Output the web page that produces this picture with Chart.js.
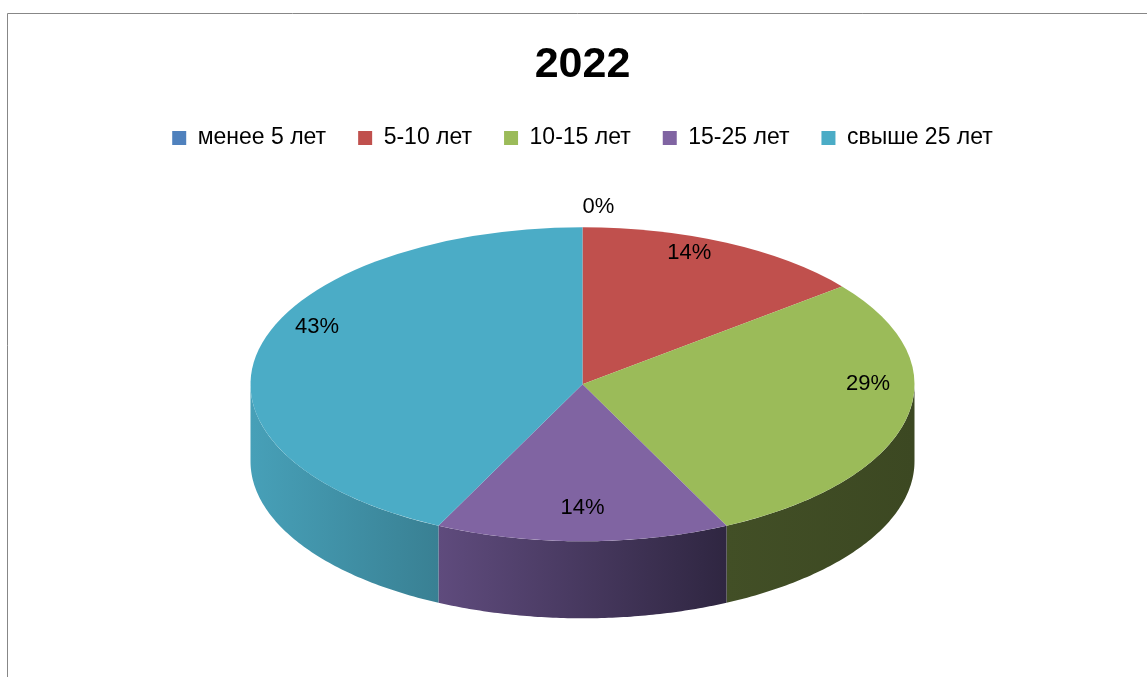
<!DOCTYPE html>
<html>
<head>
<meta charset="utf-8">
<script src="https://cdn.jsdelivr.net/npm/chart.js@4/dist/chart.umd.min.js"></script>
<style>
  html, body { margin: 0; padding: 0; background: #ffffff; }
  #wrap { width: 1147px; height: 677px; position: relative; }
</style>
</head>
<body>
<div id="wrap"><canvas id="c" width="1147" height="677"></canvas></div>
<script>
// ---- data ----
const categories = ['менее 5 лет', '5-10 лет', '10-15 лет', '15-25 лет', 'свыше 25 лет'];
const values = [0, 1, 2, 1, 3];
const chartTitle = '2022';

// ---- styles ----
const topColors = ['#4f81bd', '#c0504d', '#9bbb59', '#8064a2', '#4bacc6'];
const sideLight = ['#3f6796', '#9a403e', '#424f26', '#5f4b7d', '#47a0b8'];
const sideDark  = ['#2f4e72', '#7a3230', '#3c4822', '#2f2641', '#398093'];
const FONT = "'Liberation Sans', Arial, sans-serif";
const ELLIPSE_RX = 332, ELLIPSE_RY = 157, DEPTH = 77, APEX_DY = 30;

function ellPt(arc, ang, f, dy) {
  return [arc.x + Math.cos(ang) * ELLIPSE_RX * f, arc.y + Math.sin(ang) * ELLIPSE_RY * f + (dy || 0)];
}
// label anchor with a perspective-like projection (as in the 3D original)
function labelPt(arc, ang, f) {
  const X = f * Math.cos(ang), Z = -f * Math.sin(ang);
  const a = ELLIPSE_RY - APEX_DY, b = ELLIPSE_RY + APEX_DY;
  const c = (b - a) / (b + a), B = a * (1 + c);
  const d = 1 + c * Z;
  return [arc.x + ELLIPSE_RX * X / d, arc.y - APEX_DY - B * Z / d];
}

const pie3d = {
  id: 'pie3d',
  beforeDraw(chart) {
    const ctx = chart.ctx;
    ctx.save();
    ctx.strokeStyle = '#878787';
    ctx.lineWidth = 1;
    ctx.beginPath();
    ctx.moveTo(7.5, 677);
    ctx.lineTo(7.5, 13.5);
    ctx.lineTo(1147, 13.5);
    ctx.stroke();
    ctx.restore();
  },
  beforeDatasetsDraw(chart) {
    const ctx = chart.ctx;
    const meta = chart.getDatasetMeta(0);
    ctx.save();
    // side walls (front half of the ellipse)
    meta.data.forEach((arc, i) => {
      const s = arc.startAngle, e = arc.endAngle;
      if (e - s <= 0) return;
      for (let k = -1; k <= 1; k++) {
        const lo = Math.max(s, 2 * Math.PI * k);
        const hi = Math.min(e, 2 * Math.PI * k + Math.PI);
        if (hi <= lo) continue;
        const n = 80;
        ctx.beginPath();
        for (let j = 0; j <= n; j++) {
          const t = lo + (hi - lo) * j / n;
          const p = ellPt(arc, t, 1, 0);
          if (j === 0) ctx.moveTo(p[0], p[1]); else ctx.lineTo(p[0], p[1]);
        }
        for (let j = n; j >= 0; j--) {
          const t = lo + (hi - lo) * j / n;
          const p = ellPt(arc, t, 1, DEPTH);
          ctx.lineTo(p[0], p[1]);
        }
        ctx.closePath();
        const x0 = Math.min(ellPt(arc, lo, 1)[0], ellPt(arc, hi, 1)[0]);
        const x1 = Math.max(ellPt(arc, lo, 1)[0], ellPt(arc, hi, 1)[0]);
        const g = ctx.createLinearGradient(x0, 0, x1 + 0.01, 0);
        g.addColorStop(0, sideLight[i]);
        g.addColorStop(1, sideDark[i]);
        ctx.fillStyle = g;
        ctx.fill();
      }
    });
    // squash the top surface into an ellipse
    const a0 = meta.data[0];
    const R = a0.outerRadius;
    ctx.translate(a0.x, a0.y);
    ctx.scale(ELLIPSE_RX / R, ELLIPSE_RY / R);
    ctx.translate(-a0.x, -a0.y);
  },
  afterDatasetsDraw(chart) {
    const ctx = chart.ctx;
    ctx.restore();
    const meta = chart.getDatasetMeta(0);
    const total = values.reduce((a, b) => a + b, 0);
    ctx.save();
    ctx.font = '22px ' + FONT;
    ctx.fillStyle = '#000000';
    ctx.textBaseline = 'middle';
    meta.data.forEach((arc, i) => {
      const mid = (arc.startAngle + arc.endAngle) / 2;
      const pct = Math.round(values[i] / total * 100) + '%';
      if (values[i] === 0) {
        const p = labelPt(arc, mid, 1.2);
        ctx.textAlign = 'left';
        ctx.fillText(pct, p[0], p[1]);
      } else {
        const p = labelPt(arc, mid, 0.85);
        ctx.textAlign = 'center';
        ctx.fillText(pct, p[0], p[1]);
      }
    });
    ctx.restore();
  }
};

new Chart(document.getElementById('c'), {
  type: 'pie',
  data: {
    labels: categories,
    datasets: [{
      data: values,
      backgroundColor: topColors,
      borderWidth: 0,
      clip: false
    }]
  },
  options: {
    responsive: false,
    animation: false,
    devicePixelRatio: 1,
    layout: { padding: { left: 18, right: 0, top: 0, bottom: 68 } },
    plugins: {
      title: {
        display: true,
        text: chartTitle,
        color: '#000000',
        font: { family: FONT, size: 43, weight: 'bold' },
        padding: { top: 39, bottom: 4 }
      },
      legend: {
        display: true,
        position: 'top',
        labels: {
          color: '#000000',
          font: { family: FONT, size: 23 },
          boxWidth: 14,
          boxHeight: 14,
          padding: 32
        }
      },
      tooltip: { enabled: false }
    }
  },
  plugins: [pie3d]
});
</script>
</body>
</html>
